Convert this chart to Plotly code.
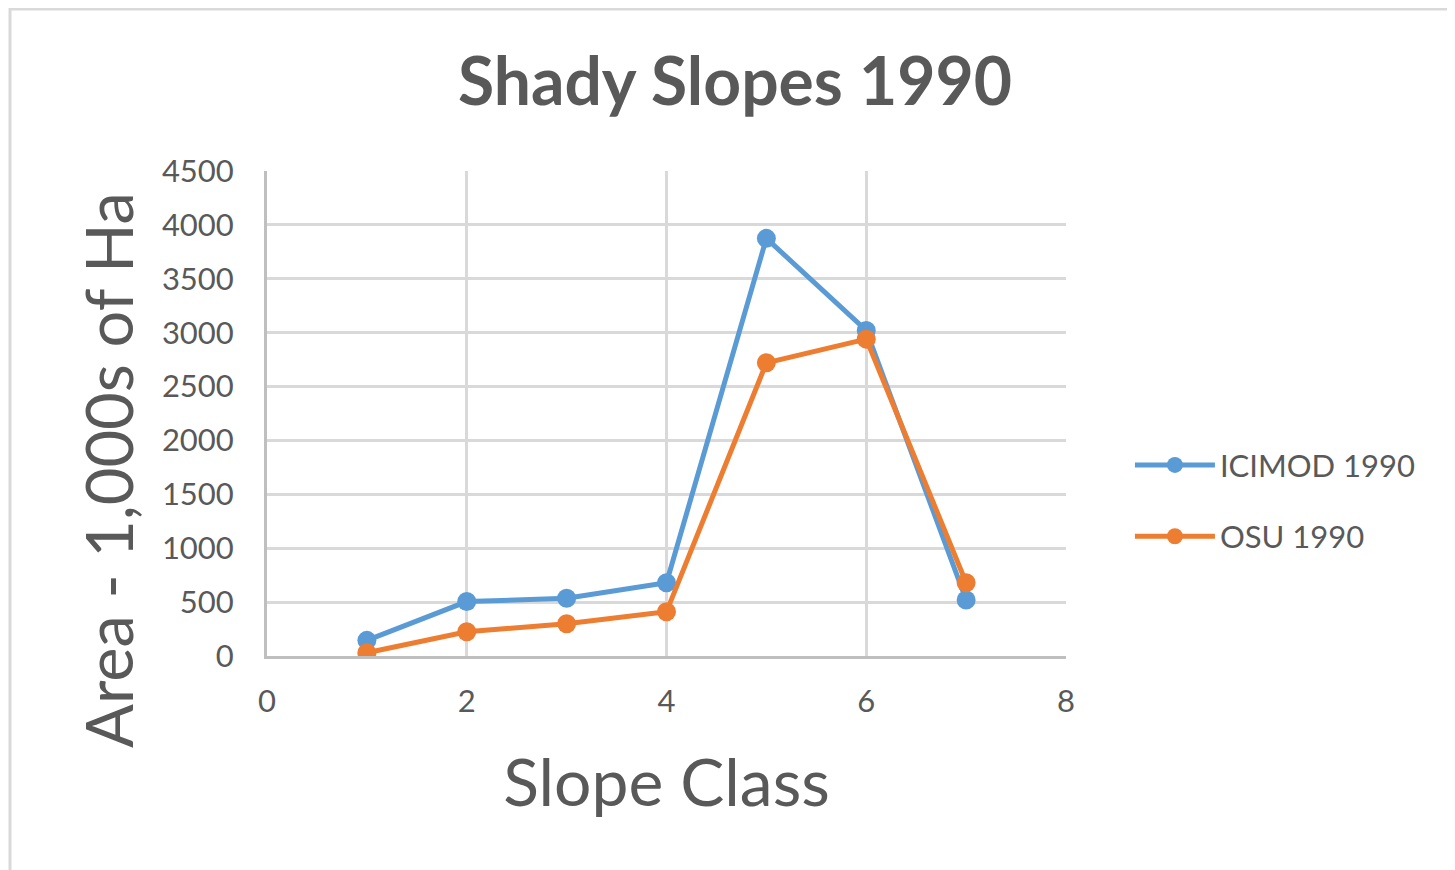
import plotly.graph_objects as go

slope_class = [1, 2, 3, 4, 5, 6, 7]
icimod_1990 = [145, 505, 535, 680, 3875, 3020, 520]
osu_1990 = [30, 225, 300, 410, 2720, 2940, 680]
series_names = ["ICIMOD 1990", "OSU 1990"]
x_ticks = [0, 2, 4, 6, 8]
y_ticks = [0, 500, 1000, 1500, 2000, 2500, 3000, 3500, 4000, 4500]

FONT = "Lato"
TXT = "#595959"
W, H = 1447, 862
OFF = 8  # page body margin
fig = go.Figure()
for name, vals, col in [(series_names[0], icimod_1990, "#5b9bd5"),
                        (series_names[1], osu_1990, "#ed7d31")]:
    fig.add_trace(go.Scatter(x=slope_class, y=vals, name=name, mode="lines+markers",
                             line=dict(color=col, width=5),
                             marker=dict(color=col, size=19),
                             legendgroup=name))

L, T, R, B = 267 - OFF, 171 - OFF, 1066 - OFF, 656 - OFF
PW, PH = R - L, B - T
fig.update_layout(
    width=W, height=H,
    paper_bgcolor="white", plot_bgcolor="white",
    margin=dict(l=L, r=W - R, t=T, b=H - B),
    title=dict(text="<b>Shady Slopes 1990</b>", x=((458 + 1012) / 2 - OFF) / W, xanchor="center",
               y=1 - (82 - OFF) / H, yanchor="middle", yref="container",
               font=dict(family=FONT, size=66, color=TXT)),
    font=dict(family=FONT, color=TXT),
    legend=dict(x=1.08, xanchor="left", y=0.32, yanchor="middle",
                font=dict(family=FONT, size=31, color=TXT),
                traceorder="grouped", tracegroupgap=28, itemwidth=80,
                bgcolor="rgba(0,0,0,0)"),
    showlegend=True,
    xaxis=dict(range=[0, 8], tickvals=x_ticks, showgrid=True, gridcolor="#d9d9d9", gridwidth=3,
               showline=True, linecolor="#bfbfbf", linewidth=3, zeroline=False,
               ticks="", tickfont=dict(size=31, color=TXT), ticklabelstandoff=16,
               title=dict(text="Slope Class", font=dict(size=66, color=TXT), standoff=42)),
    yaxis=dict(range=[0, 4500], tickvals=y_ticks, showgrid=True, gridcolor="#d9d9d9", gridwidth=3,
               showline=True, linecolor="#bfbfbf", linewidth=3, zeroline=False,
               ticks="", tickfont=dict(size=31, color=TXT), ticklabelstandoff=24),
    annotations=[dict(text="Area - 1,000s of Ha", textangle=-90, showarrow=False,
                      xref="paper", yref="paper",
                      x=(108 - 267) / PW, y=(656 - 470) / PH,
                      xanchor="center", yanchor="middle",
                      font=dict(family=FONT, size=65, color=TXT))],
    shapes=[dict(type="rect", xref="paper", yref="paper",
                 x0=(10 - 267) / PW, x1=(1500 - 267) / PW,
                 y0=(656 - 900) / PH, y1=(656 - 9) / PH,
                 line=dict(color="#d9d9d9", width=3), layer="below")],
)
fig.write_html("out.html")
